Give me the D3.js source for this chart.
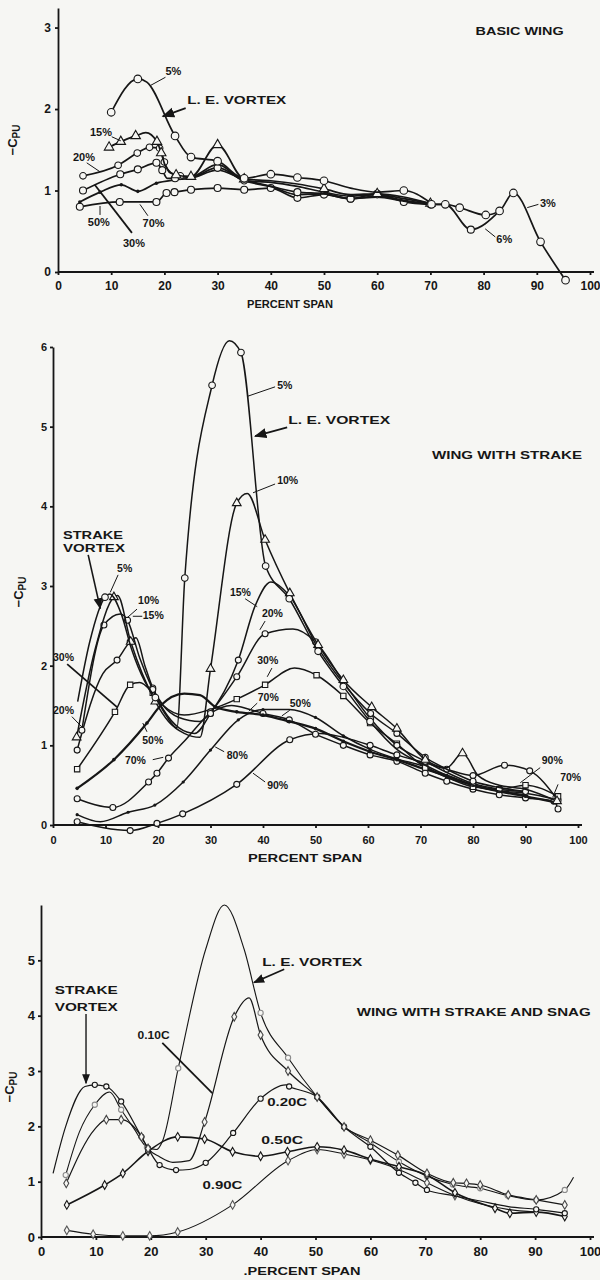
<!DOCTYPE html>
<meta charset="utf-8">
<style>
body { margin: 0; background: #f6f6f3; }
svg { display: block; }
text { font-family: "Liberation Sans", Arial, sans-serif; font-weight: bold; fill: #161616; }
.curve { fill: none; stroke: #161616; stroke-linejoin: round; }
.axis path, .axis line { stroke: #161616; stroke-width: 1.8; }
.lead { stroke: #161616; fill: none; }
</style>
<body>
<script src="https://cdn.jsdelivr.net/npm/d3@7"></script>
<script>
// percent span ticks, shared by the three panels
var spanTicks = [0, 10, 20, 30, 40, 50, 60, 70, 80, 90, 100];
var cpTicksBasic = [0, 1, 2, 3];
var cpTicksStrake = [0, 1, 2, 3, 4, 5, 6];
var cpTicksSnag = [0, 1, 2, 3, 4, 5];

// [percent span, -Cpu]; a third value 0 = faired curve point, no symbol
// basic wing, chordwise stations
var basic5 = [[10,1.96],[15,2.37],[16.7,2.33,0],[22,1.67],[25,1.41],[30,1.36],[35,1.15],[40,1.2],[45,1.16],[50,1.12],[55,1.03,0],[60,0.98,0],[65,1.0],[70,0.85,0]];
var basic15 = [[9.6,1.53],[11.8,1.6],[14.6,1.67],[16.5,1.71,0],[18.6,1.6],[19.4,1.46],[20.2,1.3,0],[22.2,1.19],[25,1.17],[30,1.56],[35,1.14],[40,1.12,0],[45,1.08,0],[50,1.02],[55,0.95,0],[60,0.96],[65,0.92,0],[70,0.84]];
var basic20 = [[4.7,1.18],[11.3,1.31],[14.9,1.46],[17.2,1.53],[19.1,1.52],[20,1.35],[21,1.22,0],[23,1.18],[25,1.17,0],[30,1.32,0],[35,1.12],[40,1.1,0],[45,1.05,0],[50,0.98,0],[55,0.93,0],[60,0.95],[65,0.9,0],[70,0.84,0]];
var basic30 = [[4.7,1.0],[11.7,1.2],[15,1.26],[18.5,1.34],[19.6,1.25],[20.5,1.15,0],[22,1.15],[25,1.16,0],[30,1.28],[35,1.12,0],[40,1.05,0],[45,0.98],[50,0.96,0],[55,0.9],[60,0.93,0],[65,0.88,0],[70,0.83,0]];
var basic50 = [[4.1,0.86],[7.9,0.98],[11.9,1.07],[15,0.99],[18.5,1.09],[21.9,1.13],[25,1.15],[30,1.25],[35,1.13],[40,1.05,0],[45,0.95],[50,0.96,0],[55,0.9],[60,0.92,0],[65,0.87,0],[70,0.83,0]];
var basic70 = [[4.1,0.8],[11.6,0.86],[18.5,0.86],[20.4,0.97],[21.9,0.98],[25,1.01],[30,1.03],[35,1.01],[40,1.03],[45,0.91],[50,0.95],[55,0.9],[60,0.96],[65,0.86],[70,0.83]];
var basic3 = [[70.2,0.83],[72.8,0.83],[75.5,0.79],[80.4,0.7],[83,0.75],[85.6,0.97],[90.7,0.37],[95.4,-0.1]];
var basic6 = [[70.2,0.83,0],[72.8,0.83,0],[77.6,0.52],[83,0.75,0]];

// wing with strake
var strake5 = [[4.7,1.55,0],[7,2.3,0],[9.9,2.86],[10.8,2.9,0],[13,2.65,0],[15,2.2,0],[17.5,1.8,0],[19.5,1.6],[21.5,1.38,0],[23.6,1.22,0],[25.1,3.1],[30.3,5.52],[33.6,6.08,0],[35.8,5.93],[40.5,3.25],[45,2.84],[50.5,2.18],[55.3,1.74],[60.4,1.3],[65.5,0.95,0],[70.9,0.75,0],[80,0.5,0],[90,0.38,0]];
var strake10 = [[4.5,1.1],[8,2.2,0],[11.6,2.86],[12.3,2.88,0],[14.8,2.3],[17,1.9,0],[19.5,1.55],[22,1.3,0],[25,1.15,0],[28,1.1,0],[30,1.96],[35,4.04],[37,4.16,0],[40.4,3.58],[45.1,2.91],[50.5,2.26],[55.3,1.82],[60.7,1.48],[65.5,1.21],[70.9,0.82],[75,0.72,0],[78,0.9],[81,0.62,0],[85,0.5,0],[90,0.45,0],[96,0.3]];
var strake15 = [[5.5,1.19],[9.7,2.51],[12.8,2.65,0],[14.2,2.57],[16.5,2.1,0],[19,1.7],[21,1.45,0],[24,1.22,0],[27,1.15,0],[30,1.4],[35.3,2.07],[38.5,2.75,0],[41.5,3.05,0],[45,2.88],[50.5,2.22],[55.3,1.78],[60.5,1.4],[65.5,1.15],[70.9,0.85],[75,0.7,0],[80,0.55],[85,0.47,0],[90,0.42]];
var strake20 = [[4.6,0.94],[9.5,1.9,0],[12.2,2.07],[14.7,2.3],[15.8,2.35,0],[17.5,2.0,0],[19,1.72],[21,1.5,0],[24,1.35,0],[28,1.3,0],[30,1.42],[35,1.86],[40.4,2.4],[45.7,2.46,0],[50,2.3],[55.3,1.8],[60.5,1.33],[65.5,1.0],[70.9,0.8],[75,0.66,0],[80,0.52],[85,0.45],[90,0.42,0]];
var strake30 = [[4.6,0.7],[11.8,1.42],[14.7,1.76],[16.5,1.79,0],[19,1.66],[21,1.5,0],[25,1.38,0],[30,1.45,0],[35,1.58],[40.4,1.76],[46,1.97,0],[50.2,1.88],[55.3,1.62],[60.4,1.28],[65.5,1.02],[70.9,0.72],[75,0.6,0],[80,0.48],[85,0.45],[90,0.5],[96.2,0.36]];
var strake50 = [[4.6,0.46],[11.6,0.82],[17.9,1.28],[20.5,1.5,0],[25,1.65,0],[28,1.63,0],[31,1.48],[35,1.42],[40,1.38],[45,1.3],[50,1.21],[55.3,1.05],[60.4,0.92],[65.5,0.82],[70.9,0.7],[75,0.62],[80,0.5],[85,0.42],[90,0.36],[96,0.28]];
var strake70 = [[4.6,0.33],[11.4,0.22],[18.2,0.54],[19.8,0.65],[22,0.84],[25,1.05,0],[30,1.4],[34,1.5,0],[37.5,1.45,0],[40,1.4],[45,1.32],[50,1.14],[55.3,1.0],[60.4,0.88],[65.5,0.8],[70.9,0.65],[75,0.55],[80,0.45],[85,0.38],[90,0.34],[95.4,0.3],[96.2,0.2]];
var strake80 = [[4.6,0.13],[9,0.04,0],[14.3,0.16],[19.4,0.25],[24.8,0.54],[30,0.94],[35.3,1.32],[40,1.45],[45,1.45,0],[50,1.35],[55.3,1.12],[60.4,0.95],[65.5,0.83],[70.9,0.73],[75,0.6],[80,0.5],[85,0.43],[90,0.4],[96,0.32]];
var strake90 = [[4.6,0.04],[14.7,-0.07],[19.8,0.02],[24.7,0.14],[35,0.51],[45.1,1.07],[51,1.15,0],[55.3,1.1,0],[60.4,1.0],[65.5,0.88],[70.9,0.78],[75,0.7],[80,0.62],[86,0.75],[90.8,0.68],[96.2,0.31]];

// wing with strake and snag, chordwise stations
var snag05 = [[4.5,1.12],[7,1.9,0],[9.8,2.39],[12.5,2.62,0],[14.6,2.3],[17,1.95,0],[19.3,1.62],[21,1.58,0],[22.2,1.75,0],[25,3.05],[30,5.2,0],[33.4,6.0,0],[37,5.2,0],[40,4.05],[45,3.24],[50.3,2.53],[55.2,2.0],[60,1.7],[65.2,1.36],[70.3,1.1],[75,0.95],[80,0.88],[85,0.75],[90.2,0.67],[95.4,0.85],[97,1.08,0]];
var snag10 = [[4.6,0.97],[9.8,1.95,0],[11.9,2.12],[14.6,2.12],[18.3,1.81],[19.5,1.6],[21.6,1.45,0],[24,1.35,0],[27,1.38,0],[29.8,2.08],[35.2,3.98],[37.9,4.32,0],[40,3.65],[45,3.0],[50.3,2.53],[55.2,1.99],[60,1.75],[65,1.48],[70.3,1.15],[75.1,0.98],[77.5,0.97],[80,0.94],[85.1,0.76],[90.2,0.67],[95.4,0.58]];
var snag20 = [[2.2,1.15,0],[4.5,2.0,0],[8,2.72,0],[9.8,2.75],[11.9,2.72],[14.6,2.45],[18.3,1.81],[19.5,1.6],[21.6,1.3],[24.6,1.21],[27,1.22,0],[30,1.34],[35,1.88],[40,2.5],[44.6,2.75,0],[45.2,2.72],[50.3,2.53],[55.2,1.99],[60,1.63],[65.2,1.16],[68.2,0.98],[70.3,0.85],[75,0.75,0],[80,0.65,0],[85.1,0.55,0],[90.2,0.5],[95.4,0.43]];
var snag50 = [[4.7,0.58],[11.6,0.94],[14.9,1.15],[19.5,1.55],[24.9,1.81],[29.8,1.77],[34.9,1.54],[40,1.46],[44.9,1.54],[50.3,1.63],[55.2,1.57],[60,1.41],[65.2,1.27],[70.3,1.12],[75.4,0.8],[82.7,0.52],[85.4,0.43],[90.2,0.45],[95.4,0.37]];
var snag90 = [[4.7,0.12],[9.5,0.05],[14.9,0.02],[19.8,0.02],[24.9,0.09],[34.9,0.58],[45,1.38],[50.3,1.58],[55.2,1.5],[60,1.39],[65.2,1.22],[70.3,0.98],[75.4,0.75],[80,0.6,0],[85,0.5,0],[90.2,0.45,0]];

var svg = d3.select("body").append("svg")
    .attr("width", 600)
    .attr("height", 1280);

svg.append("defs").append("marker")
    .attr("id", "arrow")
    .attr("viewBox", "0 0 10 10")
    .attr("refX", 9).attr("refY", 5)
    .attr("markerWidth", 7).attr("markerHeight", 7)
    .attr("orient", "auto-start-reverse")
  .append("path")
    .attr("d", "M0,1 L10,5 L0,9 z")
    .attr("fill", "#161616");

function panel(o) {
  var p = {};
  p.x = d3.scaleLinear().domain([0, 100]).range(o.xr);
  p.y = d3.scaleLinear().domain(o.yd).range(o.yr);
  p.g = svg.append("g");

  var ax = p.g.append("g")
      .attr("class", "axis")
      .attr("transform", "translate(0," + p.y(0) + ")")
      .call(d3.axisBottom(p.x).tickValues(spanTicks).tickFormat(d3.format("d"))
        .tickSize(3).tickPadding(o.xpad).tickSizeOuter(0));
  ax.selectAll("text").attr("font-size", o.fs).attr("fill", "#161616");
  ax.select(".domain").attr("d", "M" + o.xr[0] + ",0H" + (o.xr[1] + 4));

  var ay = p.g.append("g")
      .attr("class", "axis")
      .attr("transform", "translate(" + p.x(0) + ",0)")
      .call(d3.axisLeft(p.y).tickValues(o.yt).tickFormat(d3.format("d"))
        .tickSize(3).tickPadding(o.ypad).tickSizeOuter(0));
  ay.selectAll("text").attr("font-size", o.fs).attr("fill", "#161616");

  p.g.append("text")
      .attr("transform", "translate(" + o.ylab[0] + "," + o.ylab[1] + ") rotate(-90)")
      .attr("text-anchor", "middle")
      .attr("font-size", 13)
      .text("\u2212C")
    .append("tspan").attr("font-size", 10).attr("dy", 3).text("PU");

  p.g.append("text")
      .attr("x", o.xlab[0]).attr("y", o.xlab[1])
      .attr("text-anchor", "middle")
      .attr("font-size", 10.5)
      .attr("textLength", o.xlab[2]).attr("lengthAdjust", "spacingAndGlyphs")
      .text(o.xlab[3]);
  return p;
}

var line = function(p) {
  return d3.line()
      .x(function(d) { return p.x(d[0]); })
      .y(function(d) { return p.y(d[1]); })
      .curve(d3.curveMonotoneX);
};

function series(p, data, sym, w, col) {
  col = col || "#161616";
  p.g.append("path")
      .datum(data)
      .attr("class", "curve")
      .attr("stroke", col)
      .attr("stroke-width", w)
      .attr("d", line(p));
  var pts = data.filter(function(d) { return d[2] !== 0; });
  var s = p.g.append("g").selectAll("g").data(pts).enter().append("g")
      .attr("transform", function(d) { return "translate(" + p.x(d[0]) + "," + p.y(d[1]) + ")"; });
  if (sym.type === "dot") {
    s.append("circle").attr("r", sym.r).attr("fill", col);
  } else if (sym.type === "circle") {
    s.append("circle").attr("r", sym.r)
        .attr("fill", "#f6f6f3").attr("stroke", col).attr("stroke-width", 1.1);
  } else {
    var shape = sym.type === "tri" ? d3.symbolTriangle : (sym.type === "square" ? d3.symbolSquare : d3.symbolDiamond);
    s.append("path").attr("d", d3.symbol(shape).size(sym.r * sym.r * 3.2))
        .attr("fill", "#f6f6f3").attr("stroke", col).attr("stroke-width", 1.1);
  }
}

function note(p, txt, x, y, fs, len) {
  var t = p.g.append("text")
      .attr("x", p.x(x)).attr("y", p.y(y))
      .attr("font-size", fs)
      .text(txt);
  if (len) t.attr("textLength", len).attr("lengthAdjust", "spacingAndGlyphs");
}

function lead(p, x1, y1, x2, y2, w, arrow) {
  var l = p.g.append("line")
      .attr("class", "lead")
      .attr("x1", p.x(x1)).attr("y1", p.y(y1))
      .attr("x2", p.x(x2)).attr("y2", p.y(y2))
      .attr("stroke-width", w || 1);
  if (arrow) l.attr("marker-end", "url(#arrow)");
}

// ---------- basic wing ----------
var pBasic = panel({xr: [58, 590], yr: [272, 8], yd: [0, 3.24], yt: cpTicksBasic,
  fs: 12, xpad: 6, ypad: 4, ylab: [17, 140], xlab: [290, 308, 86, "PERCENT SPAN"]});

series(pBasic, basic70, {type: "circle", r: 3.5}, 1.7);
series(pBasic, basic50, {type: "dot", r: 1.8}, 1.7);
series(pBasic, basic30, {type: "circle", r: 3.5}, 1.7);
series(pBasic, basic20, {type: "circle", r: 3.3}, 1.7);
series(pBasic, basic15, {type: "tri", r: 3.5}, 1.7);
series(pBasic, basic5, {type: "circle", r: 3.8}, 1.7);
series(pBasic, basic6, {type: "circle", r: 3.5}, 1.7);
series(pBasic, basic3, {type: "circle", r: 3.8}, 1.7);

note(pBasic, "BASIC WING", 78.5, 2.91, 10, 88);
note(pBasic, "5%", 20.2, 2.42, 11);
lead(pBasic, 20.2, 2.39, 17.4, 2.29);
note(pBasic, "L. E. VORTEX", 24.3, 2.06, 11, 99);
lead(pBasic, 24.0, 2.01, 19.7, 1.91, 1.8, true);
note(pBasic, "15%", 6.0, 1.67, 11);
lead(pBasic, 10.1, 1.66, 11.8, 1.61);
note(pBasic, "20%", 2.8, 1.36, 11);
lead(pBasic, 5.4, 1.34, 7.9, 1.23);
note(pBasic, "50%", 5.6, 0.56, 11);
lead(pBasic, 7.9, 0.7, 7.9, 0.81);
note(pBasic, "70%", 15.9, 0.55, 11);
lead(pBasic, 16.9, 0.69, 15.4, 0.83);
note(pBasic, "30%", 12.2, 0.31, 11);
lead(pBasic, 13.9, 0.48, 6.9, 1.07, 1.8);
note(pBasic, "3%", 90.6, 0.8, 11);
lead(pBasic, 90.3, 0.83, 88.2, 0.79);
note(pBasic, "6%", 82.4, 0.36, 11);
lead(pBasic, 82.2, 0.43, 80.3, 0.53);

// ---------- wing with strake ----------
var pStrake = panel({xr: [53, 578], yr: [825, 347], yd: [0, 6], yt: cpTicksStrake,
  fs: 11, xpad: 8, ypad: 3, ylab: [23, 592], xlab: [305, 862, 114, "PERCENT SPAN"]});

series(pStrake, strake90, {type: "circle", r: 3}, 1.5);
series(pStrake, strake80, {type: "dot", r: 1.6}, 1.5);
series(pStrake, strake70, {type: "circle", r: 3}, 1.5);
series(pStrake, strake50, {type: "dot", r: 1.8}, 2.2);
series(pStrake, strake30, {type: "square", r: 3}, 1.5);
series(pStrake, strake20, {type: "circle", r: 3}, 1.5);
series(pStrake, strake15, {type: "circle", r: 3}, 1.5);
series(pStrake, strake10, {type: "tri", r: 3.2}, 1.5);
series(pStrake, strake5, {type: "circle", r: 3.3}, 1.5);

note(pStrake, "WING WITH STRAKE", 72.2, 4.6, 10, 150);
note(pStrake, "5%", 42.7, 5.47, 10.5);
lead(pStrake, 42.3, 5.5, 37.0, 5.38);
note(pStrake, "L. E. VORTEX", 44.8, 5.03, 11, 102);
lead(pStrake, 44.6, 4.99, 38.5, 4.88, 1.8, true);
note(pStrake, "10%", 42.7, 4.28, 10.5);
lead(pStrake, 42.3, 4.28, 38.1, 4.17);
note(pStrake, "STRAKE", 1.9, 3.59, 11, 60);
note(pStrake, "VORTEX", 1.9, 3.43, 11, 62);
lead(pStrake, 6.7, 3.39, 9.0, 2.72, 1.6, true);
note(pStrake, "5%", 12.2, 3.17, 10.5);
lead(pStrake, 12.4, 3.14, 10.9, 2.92);
note(pStrake, "10%", 16.2, 2.77, 10.5);
lead(pStrake, 16.0, 2.71, 14.1, 2.6);
note(pStrake, "15%", 17.1, 2.58, 10.5);
lead(pStrake, 15.2, 2.62, 17.0, 2.62);
note(pStrake, "30%", 0, 2.06, 10.5);
lead(pStrake, 2.7, 2.02, 12.2, 1.48, 1.8);
note(pStrake, "20%", 0, 1.39, 10.5);
lead(pStrake, 3.6, 1.36, 5.5, 1.23);
note(pStrake, "50%", 17.0, 1.02, 10.5);
lead(pStrake, 17.9, 1.17, 17.1, 1.28);
note(pStrake, "70%", 13.7, 0.77, 10.5);
lead(pStrake, 19.0, 0.82, 21.0, 0.85);
note(pStrake, "80%", 33.1, 0.83, 10.5);
lead(pStrake, 32.6, 0.92, 30.9, 0.98);
note(pStrake, "90%", 40.8, 0.45, 10.5);
lead(pStrake, 40.4, 0.54, 38.1, 0.65);
note(pStrake, "15%", 33.7, 2.87, 10.5);
lead(pStrake, 36.6, 2.84, 38.9, 2.74);
note(pStrake, "20%", 39.8, 2.61, 10.5);
lead(pStrake, 40.4, 2.56, 39.4, 2.45);
note(pStrake, "30%", 38.9, 2.02, 10.5);
lead(pStrake, 41.7, 1.97, 40.8, 1.86);
note(pStrake, "70%", 39.0, 1.56, 10.5);
lead(pStrake, 38.9, 1.53, 37.3, 1.43);
note(pStrake, "50%", 45.1, 1.48, 10.5);
lead(pStrake, 45.1, 1.44, 43.6, 1.37);
note(pStrake, "90%", 93.1, 0.77, 10.5);
lead(pStrake, 92.8, 0.72, 89.0, 0.53);
note(pStrake, "70%", 96.6, 0.55, 10.5);
lead(pStrake, 96.2, 0.51, 95.2, 0.35);

// ---------- wing with strake and snag ----------
var pSnag = panel({xr: [41, 590], yr: [1237, 905], yd: [0, 6], yt: cpTicksSnag,
  fs: 13, xpad: 7, ypad: 3, ylab: [14, 1087], xlab: [302, 1275, 117, ".PERCENT SPAN"]});

series(pSnag, snag05, {type: "circle", r: 2.6}, 1.1, "#8a8a8a");
series(pSnag, snag90, {type: "diamond", r: 2.6}, 1.1, "#555");
series(pSnag, snag50, {type: "diamond", r: 2.6}, 1.6);
series(pSnag, snag20, {type: "circle", r: 2.6}, 1.2);
series(pSnag, snag10, {type: "diamond", r: 2.6}, 1.2, "#444");

note(pSnag, "STRAKE", 2.5, 4.39, 11, 63);
note(pSnag, "VORTEX", 2.5, 4.09, 11, 63);
lead(pSnag, 8.2, 4.03, 8.2, 2.78, 1.4, true);
note(pSnag, "L. E. VORTEX", 40.3, 4.9, 11, 100);
lead(pSnag, 44.3, 4.84, 38.8, 4.6, 1.6, true);
note(pSnag, "0.10C", 17.6, 3.58, 11, 32);
lead(pSnag, 22.1, 3.51, 31.2, 2.6, 1.8);
note(pSnag, "0.20C", 41.2, 2.37, 11, 40);
note(pSnag, "0.50C", 40.1, 1.68, 11, 42);
note(pSnag, "0.90C", 29.4, 0.87, 11, 40);
note(pSnag, "WING WITH STRAKE AND SNAG", 57.5, 4.0, 10.5, 234);
</script>
